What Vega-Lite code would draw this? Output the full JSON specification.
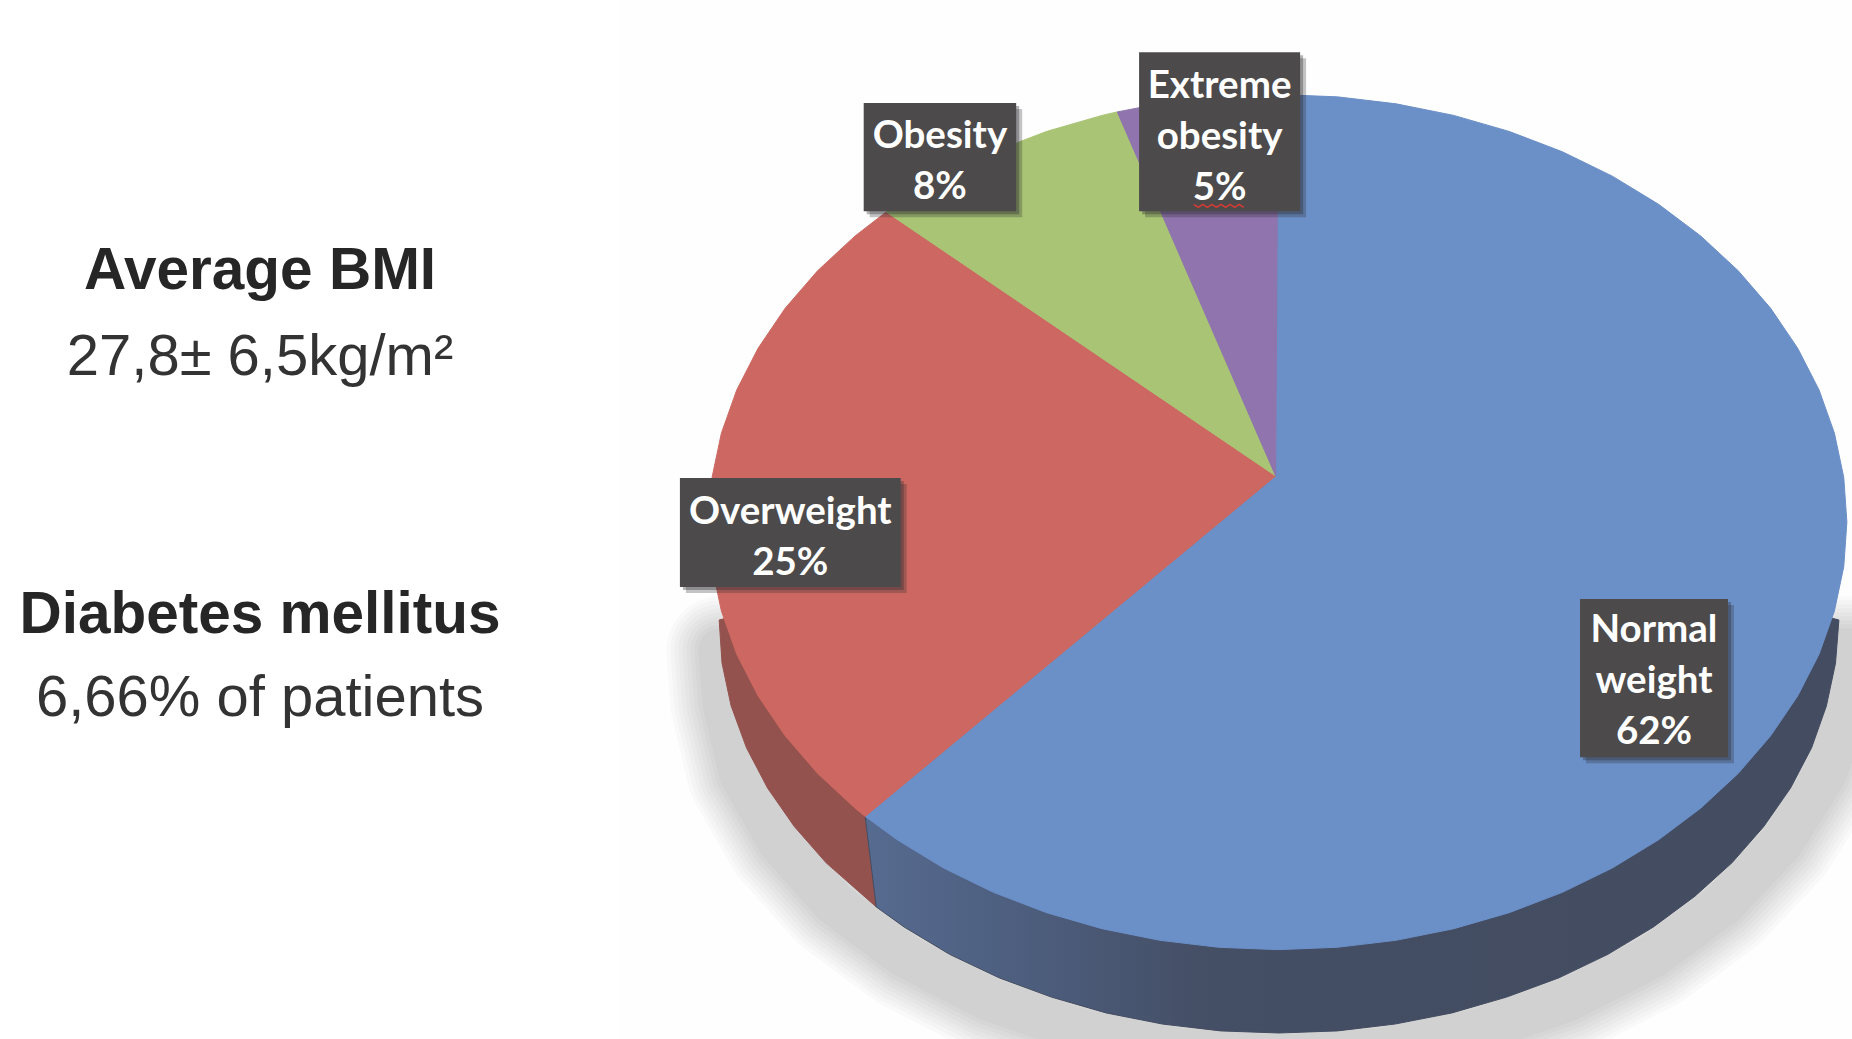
{
  "$schema": "https://vega.github.io/schema/vega-lite/v6.json",
  "width": 1852,
  "height": 1039,
  "padding": 0,
  "autosize": {"type": "none"},
  "background": "#ffffff",
  "view": {"stroke": null},
  "config": {"axis": {"grid": false}},
  "datasets": {
    "panel": [{"x0": -115.6, "x1": 100.9, "y0": 122.1, "y1": -120.9}],
    "shadow": [
      {"i":0,"x":80,"y":-30},{"i":1,"x":101,"y":-30},{"i":2,"x":100.6,"y":-42.4},{"i":3,"x":96.0,"y":-59.2},
      {"i":4,"x":88.5,"y":-75},{"i":5,"x":78.3,"y":-89.3},{"i":6,"x":65.8,"y":-101.6},{"i":7,"x":51.2,"y":-111.6},
      {"i":8,"x":35.1,"y":-119},{"i":9,"x":17.9,"y":-123.5},{"i":10,"x":0.2,"y":-125},{"i":11,"x":-17.5,"y":-123.5},
      {"i":12,"x":-34.7,"y":-119},{"i":13,"x":-50.8,"y":-111.6},{"i":14,"x":-65.4,"y":-101.6},{"i":15,"x":-77.9,"y":-89.3},
      {"i":16,"x":-87.5,"y":-75},{"i":17,"x":-94.3,"y":-59.2},{"i":18,"x":-97.3,"y":-42.4},{"i":19,"x":-98,"y":-30},
      {"i":20,"x":-80,"y":-30}
    ],
    "wallRed": [
      {"i":0,"x":-72.54,"y":-68.84},{"i":1,"x":-70.6,"y":-90.0},{"i":2,"x":-79.4,"y":-79.7},{"i":3,"x":-85.0,"y":-71.2},
      {"i":4,"x":-89.7,"y":-62.2},{"i":5,"x":-93.4,"y":-52.8},{"i":6,"x":-96.1,"y":-43.0},{"i":7,"x":-97.7,"y":-33.0},
      {"i":8,"x":-98.2,"y":-22.9},{"i":9,"x":-0.4,"y":10.8}
    ],
    "wallBlue": [
      {"i":0,"x":-72.54,"y":-68.84},{"i":1,"x":-70.6,"y":-90.0},{"i":2,"x":-65.7,"y":-94.7},{"i":3,"x":-57.7,"y":-101.1},
      {"i":4,"x":-49.0,"y":-106.6},{"i":5,"x":-39.8,"y":-111.1},{"i":6,"x":-30.2,"y":-114.8},{"i":7,"x":-20.3,"y":-117.4},
      {"i":8,"x":-10.1,"y":-119.0},{"i":9,"x":0.2,"y":-119.5},{"i":10,"x":10.5,"y":-119.0},{"i":11,"x":20.6,"y":-117.4},
      {"i":12,"x":30.6,"y":-114.8},{"i":13,"x":40.2,"y":-111.1},{"i":14,"x":49.4,"y":-106.6},{"i":15,"x":58.0,"y":-101.1},
      {"i":16,"x":66.0,"y":-94.7},{"i":17,"x":73.3,"y":-87.5},{"i":18,"x":79.8,"y":-79.7},{"i":19,"x":85.4,"y":-71.2},
      {"i":20,"x":90.1,"y":-62.2},{"i":21,"x":93.8,"y":-52.8},{"i":22,"x":96.4,"y":-43.0},{"i":23,"x":98.0,"y":-33.0},
      {"i":24,"x":98.6,"y":-22.9},{"i":25,"x":-0.4,"y":10.8}
    ],
    "wedges": [
      {"slice":"Normal weight","i":0,"x":-0.4,"y":10.8},{"slice":"Normal weight","i":1,"x":0,"y":100},{"slice":"Normal weight","i":2,"x":10.45,"y":99.45},
      {"slice":"Normal weight","i":3,"x":20.79,"y":97.81},{"slice":"Normal weight","i":4,"x":30.9,"y":95.11},{"slice":"Normal weight","i":5,"x":40.67,"y":91.35},
      {"slice":"Normal weight","i":6,"x":50,"y":86.6},{"slice":"Normal weight","i":7,"x":58.78,"y":80.9},{"slice":"Normal weight","i":8,"x":66.91,"y":74.31},
      {"slice":"Normal weight","i":9,"x":74.31,"y":66.91},{"slice":"Normal weight","i":10,"x":80.9,"y":58.78},{"slice":"Normal weight","i":11,"x":86.6,"y":50},
      {"slice":"Normal weight","i":12,"x":91.35,"y":40.67},{"slice":"Normal weight","i":13,"x":95.11,"y":30.9},{"slice":"Normal weight","i":14,"x":97.81,"y":20.79},
      {"slice":"Normal weight","i":15,"x":99.45,"y":10.45},{"slice":"Normal weight","i":16,"x":100,"y":0},{"slice":"Normal weight","i":17,"x":99.45,"y":-10.45},
      {"slice":"Normal weight","i":18,"x":97.81,"y":-20.79},{"slice":"Normal weight","i":19,"x":95.11,"y":-30.9},{"slice":"Normal weight","i":20,"x":91.35,"y":-40.67},
      {"slice":"Normal weight","i":21,"x":86.6,"y":-50},{"slice":"Normal weight","i":22,"x":80.9,"y":-58.78},{"slice":"Normal weight","i":23,"x":74.31,"y":-66.91},
      {"slice":"Normal weight","i":24,"x":66.91,"y":-74.31},{"slice":"Normal weight","i":25,"x":58.78,"y":-80.9},{"slice":"Normal weight","i":26,"x":50,"y":-86.6},
      {"slice":"Normal weight","i":27,"x":40.67,"y":-91.35},{"slice":"Normal weight","i":28,"x":30.9,"y":-95.11},{"slice":"Normal weight","i":29,"x":20.79,"y":-97.81},
      {"slice":"Normal weight","i":30,"x":10.45,"y":-99.45},{"slice":"Normal weight","i":31,"x":0,"y":-100},{"slice":"Normal weight","i":32,"x":-10.45,"y":-99.45},
      {"slice":"Normal weight","i":33,"x":-20.79,"y":-97.81},{"slice":"Normal weight","i":34,"x":-30.9,"y":-95.11},{"slice":"Normal weight","i":35,"x":-40.67,"y":-91.35},
      {"slice":"Normal weight","i":36,"x":-50,"y":-86.6},{"slice":"Normal weight","i":37,"x":-58.78,"y":-80.9},{"slice":"Normal weight","i":38,"x":-66.91,"y":-74.31},
      {"slice":"Normal weight","i":39,"x":-72.54,"y":-68.84},{"slice":"Normal weight","i":40,"x":-0.4,"y":10.8},

      {"slice":"Overweight","i":0,"x":-0.4,"y":10.8},{"slice":"Overweight","i":1,"x":-72.54,"y":-68.84},{"slice":"Overweight","i":2,"x":-74.31,"y":-66.91},
      {"slice":"Overweight","i":3,"x":-80.9,"y":-58.78},{"slice":"Overweight","i":4,"x":-86.6,"y":-50},{"slice":"Overweight","i":5,"x":-91.35,"y":-40.67},
      {"slice":"Overweight","i":6,"x":-95.11,"y":-30.9},{"slice":"Overweight","i":7,"x":-97.81,"y":-20.79},{"slice":"Overweight","i":8,"x":-99.45,"y":-10.45},
      {"slice":"Overweight","i":9,"x":-100,"y":0},{"slice":"Overweight","i":10,"x":-99.45,"y":10.45},{"slice":"Overweight","i":11,"x":-97.81,"y":20.79},
      {"slice":"Overweight","i":12,"x":-95.11,"y":30.9},{"slice":"Overweight","i":13,"x":-91.35,"y":40.67},{"slice":"Overweight","i":14,"x":-86.6,"y":50},
      {"slice":"Overweight","i":15,"x":-80.9,"y":58.78},{"slice":"Overweight","i":16,"x":-74.31,"y":66.91},{"slice":"Overweight","i":17,"x":-68.84,"y":72.54},
      {"slice":"Overweight","i":18,"x":-0.4,"y":10.8},

      {"slice":"Obesity","i":0,"x":-0.4,"y":10.8},{"slice":"Obesity","i":1,"x":-68.84,"y":72.54},{"slice":"Obesity","i":2,"x":-66.91,"y":74.31},
      {"slice":"Obesity","i":3,"x":-58.78,"y":80.9},{"slice":"Obesity","i":4,"x":-50,"y":86.6},{"slice":"Obesity","i":5,"x":-40.67,"y":91.35},
      {"slice":"Obesity","i":6,"x":-30.9,"y":95.11},{"slice":"Obesity","i":7,"x":-28.23,"y":95.93},{"slice":"Obesity","i":8,"x":-0.4,"y":10.8},

      {"slice":"Extreme obesity","i":0,"x":-0.4,"y":10.8},{"slice":"Extreme obesity","i":1,"x":-28.23,"y":95.93},{"slice":"Extreme obesity","i":2,"x":-20.79,"y":97.81},
      {"slice":"Extreme obesity","i":3,"x":-10.45,"y":99.45},{"slice":"Extreme obesity","i":4,"x":0,"y":100},{"slice":"Extreme obesity","i":5,"x":-0.4,"y":10.8}
    ],
    "labels": [
      {"label":"Normal\nweight\n62%","share":62,"x0":53.1,"x1":79.1,"y0":-18.0,"y1":-55.0,"cx":66.1,"cy":-25.3},
      {"label":"Overweight\n25%","share":25,"x0":-105.1,"x1":-66.3,"y0":10.3,"y1":-15.2,"cx":-85.7,"cy":2.4},
      {"label":"Obesity\n8%","share":8,"x0":-72.8,"x1":-46.0,"y0":98.0,"y1":72.7,"cx":-59.4,"cy":90.2},
      {"label":"Extreme\nobesity\n5%","share":5,"x0":-24.4,"x1":3.9,"y0":109.9,"y1":72.7,"cx":-10.25,"cy":102.1}
    ],
    "squiggle": [
      {"i":0,"x":-14.8,"y":74.3},{"i":1,"x":-14.0,"y":73.6},{"i":2,"x":-13.2,"y":74.3},{"i":3,"x":-12.4,"y":73.6},
      {"i":4,"x":-11.6,"y":74.3},{"i":5,"x":-10.8,"y":73.6},{"i":6,"x":-10.0,"y":74.3},{"i":7,"x":-9.2,"y":73.6},
      {"i":8,"x":-8.4,"y":74.3},{"i":9,"x":-7.6,"y":73.6},{"i":10,"x":-6.8,"y":74.3},{"i":11,"x":-6.0,"y":73.6}
    ],
    "headings": [
      {"text":"Average BMI","x":-178.9,"y":54.5},
      {"text":"Diabetes mellitus","x":-178.9,"y":-26.0}
    ],
    "readings": [
      {"text":"27,8± 6,5kg/m²","x":-178.9,"y":34.4},
      {"text":"6,66% of patients","x":-178.9,"y":-45.4}
    ]
  },
  "encoding": {
    "x": {"field": "x", "type": "quantitative", "axis": null, "scale": {"domain": [-224.6, 100.9], "nice": false, "zero": false}},
    "y": {"field": "y", "type": "quantitative", "axis": null, "scale": {"domain": [-120.9, 122.1], "nice": false, "zero": false}}
  },
  "layer": [
    {
      "data": {"name": "panel"},
      "mark": {"type": "rect", "fill": "#fefefe"},
      "encoding": {
        "x": {"field": "x0", "type": "quantitative"}, "x2": {"field": "x1"},
        "y": {"field": "y0", "type": "quantitative"}, "y2": {"field": "y1"}
      }
    },
    {"data": {"name": "shadow"}, "mark": {"type": "line", "stroke": "#000000", "strokeWidth": 108, "strokeOpacity": 0.02, "strokeJoin": "round"}, "encoding": {"order": {"field": "i", "type": "quantitative"}}},
    {"data": {"name": "shadow"}, "mark": {"type": "line", "stroke": "#000000", "strokeWidth": 100, "strokeOpacity": 0.02, "strokeJoin": "round"}, "encoding": {"order": {"field": "i", "type": "quantitative"}}},
    {"data": {"name": "shadow"}, "mark": {"type": "line", "stroke": "#000000", "strokeWidth": 92, "strokeOpacity": 0.02, "strokeJoin": "round"}, "encoding": {"order": {"field": "i", "type": "quantitative"}}},
    {"data": {"name": "shadow"}, "mark": {"type": "line", "stroke": "#000000", "strokeWidth": 84, "strokeOpacity": 0.02, "strokeJoin": "round"}, "encoding": {"order": {"field": "i", "type": "quantitative"}}},
    {"data": {"name": "shadow"}, "mark": {"type": "line", "stroke": "#000000", "strokeWidth": 76, "strokeOpacity": 0.02, "strokeJoin": "round"}, "encoding": {"order": {"field": "i", "type": "quantitative"}}},
    {"data": {"name": "shadow"}, "mark": {"type": "line", "stroke": "#000000", "strokeWidth": 68, "strokeOpacity": 0.02, "strokeJoin": "round"}, "encoding": {"order": {"field": "i", "type": "quantitative"}}},
    {"data": {"name": "shadow"}, "mark": {"type": "line", "stroke": "#000000", "strokeWidth": 60, "strokeOpacity": 0.02, "strokeJoin": "round"}, "encoding": {"order": {"field": "i", "type": "quantitative"}}},
    {"data": {"name": "shadow"}, "mark": {"type": "line", "stroke": "#000000", "strokeWidth": 52, "strokeOpacity": 0.02, "strokeJoin": "round"}, "encoding": {"order": {"field": "i", "type": "quantitative"}}},
    {"data": {"name": "shadow"}, "mark": {"type": "line", "stroke": "#000000", "strokeWidth": 44, "strokeOpacity": 0.02, "strokeJoin": "round"}, "encoding": {"order": {"field": "i", "type": "quantitative"}}},
    {
      "data": {"name": "wallRed"},
      "mark": {"type": "line", "fill": "#94524e", "stroke": "#94524e", "strokeWidth": 1},
      "encoding": {"order": {"field": "i", "type": "quantitative"}}
    },
    {
      "data": {"name": "wallBlue"},
      "mark": {
        "type": "line",
        "stroke": "#434c60",
        "strokeWidth": 1,
        "fill": {
          "gradient": "linear", "x1": 0, "y1": 0, "x2": 1, "y2": 0,
          "stops": [
            {"offset": 0, "color": "#566b90"},
            {"offset": 0.16, "color": "#4d5e7e"},
            {"offset": 0.36, "color": "#444e64"},
            {"offset": 1, "color": "#434c60"}
          ]
        }
      },
      "encoding": {"order": {"field": "i", "type": "quantitative"}}
    },
    {
      "data": {"name": "wedges"},
      "mark": {"type": "line", "strokeWidth": 1},
      "encoding": {
        "order": {"field": "i", "type": "quantitative"},
        "fill": {
          "field": "slice", "type": "nominal", "legend": null,
          "scale": {"domain": ["Normal weight", "Overweight", "Obesity", "Extreme obesity"], "range": ["#6b8fc7", "#cc6861", "#a8c474", "#8f74ad"]}
        },
        "stroke": {
          "field": "slice", "type": "nominal", "legend": null,
          "scale": {"domain": ["Normal weight", "Overweight", "Obesity", "Extreme obesity"], "range": ["#6b8fc7", "#cc6861", "#a8c474", "#8f74ad"]}
        }
      }
    },
    {
      "data": {"name": "labels"},
      "mark": {"type": "rect", "fill": "#2c2c30", "opacity": 0.28, "xOffset": 6, "x2Offset": 6, "yOffset": 6, "y2Offset": 6},
      "encoding": {
        "x": {"field": "x0", "type": "quantitative"}, "x2": {"field": "x1"},
        "y": {"field": "y0", "type": "quantitative"}, "y2": {"field": "y1"}
      }
    },
    {
      "data": {"name": "labels"},
      "mark": {"type": "rect", "fill": "#2c2c30", "opacity": 0.35, "xOffset": 3, "x2Offset": 3, "yOffset": 3, "y2Offset": 3},
      "encoding": {
        "x": {"field": "x0", "type": "quantitative"}, "x2": {"field": "x1"},
        "y": {"field": "y0", "type": "quantitative"}, "y2": {"field": "y1"}
      }
    },
    {
      "data": {"name": "labels"},
      "mark": {"type": "rect", "fill": "#4c4a4a"},
      "encoding": {
        "x": {"field": "x0", "type": "quantitative"}, "x2": {"field": "x1"},
        "y": {"field": "y0", "type": "quantitative"}, "y2": {"field": "y1"}
      }
    },
    {
      "data": {"name": "labels"},
      "mark": {"type": "text", "font": "Lato", "fontWeight": "bold", "fontSize": 38.5, "color": "#ffffff", "align": "center", "baseline": "middle", "lineBreak": "\n", "lineHeight": 51},
      "encoding": {
        "x": {"field": "cx", "type": "quantitative"},
        "y": {"field": "cy", "type": "quantitative"},
        "text": {"field": "label"}
      }
    },
    {
      "data": {"name": "squiggle"},
      "mark": {"type": "line", "stroke": "#d83a34", "strokeWidth": 1.5},
      "encoding": {"order": {"field": "i", "type": "quantitative"}}
    },
    {
      "data": {"name": "headings"},
      "mark": {"type": "text", "font": "Liberation Sans", "fontWeight": "bold", "fontSize": 58.5, "color": "#262626", "align": "center", "baseline": "alphabetic"},
      "encoding": {"text": {"field": "text"}}
    },
    {
      "data": {"name": "readings"},
      "mark": {"type": "text", "font": "Liberation Sans", "fontSize": 58, "color": "#333333", "align": "center", "baseline": "alphabetic"},
      "encoding": {"text": {"field": "text"}}
    }
  ]
}
